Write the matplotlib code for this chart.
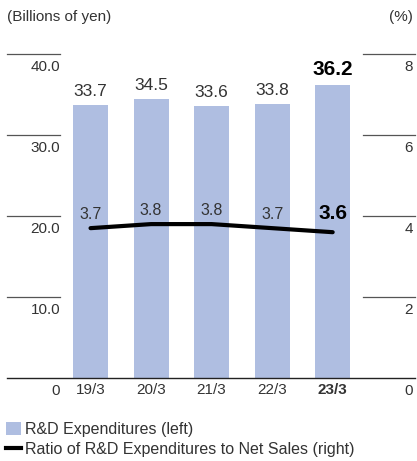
import matplotlib.pyplot as plt
from matplotlib.transforms import offset_copy
from matplotlib.patches import Patch
from matplotlib.lines import Line2D

# データ
years = ["19/3", "20/3", "21/3", "22/3", "23/3"]
rd_exp = [33.7, 34.5, 33.6, 33.8, 36.2]
ratio = [3.7, 3.8, 3.8, 3.7, 3.6]
left_ticks = [10, 20, 30, 40]
left_labels = ["10.0", "20.0", "30.0", "40.0"]
right_ticks = [2, 4, 6, 8]
right_labels = ["2", "4", "6", "8"]

W, H = 417, 461
bar_color = "#AFBEE1"
txt = "#333333"
fs = 11
plt.rcParams["font.family"] = ["Liberation Sans", "DejaVu Sans"]

fig = plt.figure(figsize=(W / 100, H / 100), dpi=100)
ax = fig.add_axes([7 / W, (H - 378) / H, 408 / W, 324 / H])
ax2 = ax.twinx()
ax2.set_position(ax.get_position())

x = list(range(len(years)))
ax.bar(x, rd_exp, width=0.58, color=bar_color, zorder=2)
ax2.plot(x, ratio, color="black", lw=3.0, solid_capstyle="round",
         solid_joinstyle="round", zorder=3)
ax.set_ylim(0, 40)
ax2.set_ylim(0, 8)

for a in (ax, ax2):
    for s in a.spines.values():
        s.set_visible(False)
    a.set_xticks([])
    a.set_yticks([])
ax.axhline(0, color="#222222", lw=1.0, clip_on=False)

# 左右の目盛り線
lt = ax.get_yaxis_transform()
rt = ax2.get_yaxis_transform()
lt_lab = offset_copy(lt, fig=fig, y=-13, units="dots")
rt_lab = offset_copy(rt, fig=fig, y=-13, units="dots")
for v, lab in zip(left_ticks, left_labels):
    ax.plot([0, 53 / 408], [v, v], color="#555555", lw=0.9, transform=lt, clip_on=False)
    ax.text(53 / 408, v, lab, transform=lt_lab, ha="right", va="center",
            fontsize=fs, color=txt)
for v, lab in zip(right_ticks, right_labels):
    ax2.plot([356 / 408, 1], [v, v], color="#555555", lw=0.9, transform=rt, clip_on=False)
    ax2.text(406 / 408, v, lab, transform=rt_lab, ha="right", va="center",
             fontsize=fs, color=txt)
ax.text(53 / 408, 0, "0", transform=lt_lab, ha="right", va="center", fontsize=fs, color=txt)
ax2.text(406 / 408, 0, "0", transform=rt_lab, ha="right", va="center", fontsize=fs, color=txt)
ax.set_xlim(-1.38, 5.36)

# カテゴリラベル
xt = offset_copy(ax.get_xaxis_transform(), fig=fig, y=-12, units="dots")
for i, y in enumerate(years):
    bold = i == len(years) - 1
    ax.text(i, 0, y, transform=xt, ha="center", va="center", fontsize=fs,
            color=txt, fontweight="bold" if bold else "normal")

# 値ラベル
for i, v in enumerate(rd_exp):
    bold = i == len(years) - 1
    t = offset_copy(ax.transData, fig=fig, y=15.5 if bold else 13.5, units="dots")
    ax.text(i, v, f"{v:.1f}", transform=t, ha="center", va="center",
            fontsize=15 if bold else 12.5, color="black" if bold else txt,
            fontweight="bold" if bold else "normal")
for i, v in enumerate(ratio):
    bold = i == len(years) - 1
    t = offset_copy(ax2.transData, fig=fig, y=19 if bold else 14, units="dots")
    ax2.text(i, v, f"{v:.1f}", transform=t, ha="center", va="center",
             fontsize=15 if bold else 11.5, color="black" if bold else txt,
             fontweight="bold" if bold else "normal", zorder=4)

fig.text(7 / W, 1 - 17 / H, "(Billions of yen)", ha="left", va="center", fontsize=fs, color=txt)
fig.text(413 / W, 1 - 17 / H, "(%)", ha="right", va="center", fontsize=fs, color=txt)

handles = [Patch(facecolor=bar_color, edgecolor="none"),
           Line2D([], [], color="black", lw=3)]
labels = ["R&D Expenditures (left)", "Ratio of R&D Expenditures to Net Sales (right)"]
fig.legend(handles, labels, loc="upper left", bbox_to_anchor=(3 / W, 1 - 419 / H),
           frameon=False, fontsize=11.5, handlelength=0.9, handleheight=0.9,
           handletextpad=0.25, labelspacing=0.3, borderaxespad=0, borderpad=0.2,
           labelcolor=txt)

fig.savefig("out.png", dpi=100)
